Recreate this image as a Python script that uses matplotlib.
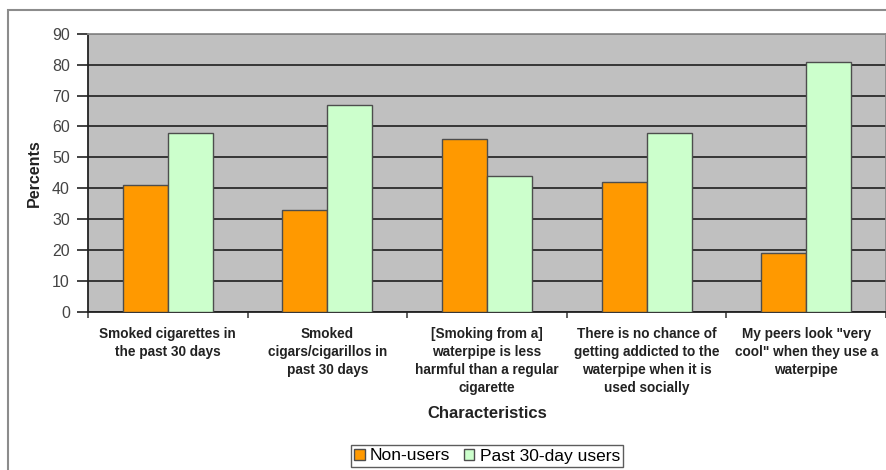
import numpy as np
import matplotlib.pyplot as plt
from matplotlib.patches import Rectangle

plt.rcParams['font.family'] = ['Liberation Sans', 'DejaVu Sans']

# Survey responses by smoking status
categories = [
    'Smoked cigarettes in\nthe past 30 days',
    'Smoked\ncigars/cigarillos in\npast 30 days',
    '[Smoking from a]\nwaterpipe is less\nharmful than a regular\ncigarette',
    'There is no chance of\ngetting addicted to the\nwaterpipe when it is\nused socially',
    'My peers look "very\ncool" when they use a\nwaterpipe',
]
non_users = [41, 33, 56, 42, 19]
past_users = [58, 67, 44, 58, 81]
series_names = ['Non-users', 'Past 30-day users']

fig = plt.figure(figsize=(8.87, 4.70), dpi=100)
ax = fig.add_axes([0.0992, 0.3372, 0.8997, 0.5905])

# outer chart frame
fig.patches.append(Rectangle((8 / 887, -0.1), 1.2, 1.1 - 10 / 470,
                             transform=fig.transFigure, fill=False,
                             edgecolor='#8c8c8c', linewidth=1.5))

x = np.arange(len(categories))
w = 0.282
b1 = ax.bar(x - w / 2, non_users, w, color='#ff9900', edgecolor='#4d4d4d',
            linewidth=1.0, zorder=3, label=series_names[0])
b2 = ax.bar(x + w / 2, past_users, w, color='#ccffcc', edgecolor='#4d4d4d',
            linewidth=1.0, zorder=3, label=series_names[1])

ax.set_facecolor('#c0c0c0')
ax.set_xlim(-0.5, len(categories) - 0.5)
ax.set_ylim(0, 90)
ax.set_yticks(range(0, 91, 10))
ax.yaxis.grid(True, color='#2b2b2b', linewidth=1.3, zorder=1)
ax.set_axisbelow(True)

ax.tick_params(axis='y', length=8, width=1.2, color='#222222',
               labelsize=11.5, labelcolor='#444444', pad=5)
ax.set_xticks(np.arange(len(categories) + 1) - 0.5)
ax.set_xticklabels([])
ax.tick_params(axis='x', length=4, width=1.2, color='#444444')
ax.set_xticks(x, minor=True)
ax.set_xticklabels(categories, minor=True, fontsize=9.8, fontweight='bold',
                   color='#222222', linespacing=1.38)
ax.tick_params(axis='x', which='minor', length=0, pad=11)

for s in ['left', 'bottom']:
    ax.spines[s].set_color('#222222')
    ax.spines[s].set_linewidth(1.3)
for s in ['top', 'right']:
    ax.spines[s].set_color('#8c8c8c')
    ax.spines[s].set_linewidth(1.3)

ax.set_ylabel('Percents', fontsize=11.5, fontweight='bold', labelpad=7,
              color='#222222')
fig.text(487 / 887, 1 - 413 / 470, 'Characteristics', ha='center',
         va='center', fontsize=12, fontweight='bold', color='#222222')

leg = fig.legend(handles=[b1, b2], loc='center',
                 bbox_to_anchor=(487 / 887, 1 - 456 / 470), ncol=2,
                 fontsize=12.5, frameon=True, fancybox=False,
                 edgecolor='#333333', handlelength=0.6, handleheight=0.6,
                 handletextpad=0.3, columnspacing=0.8, borderpad=0.2,
                 borderaxespad=0)
leg.get_frame().set_linewidth(1.0)

fig.savefig('out.png', dpi=100)
